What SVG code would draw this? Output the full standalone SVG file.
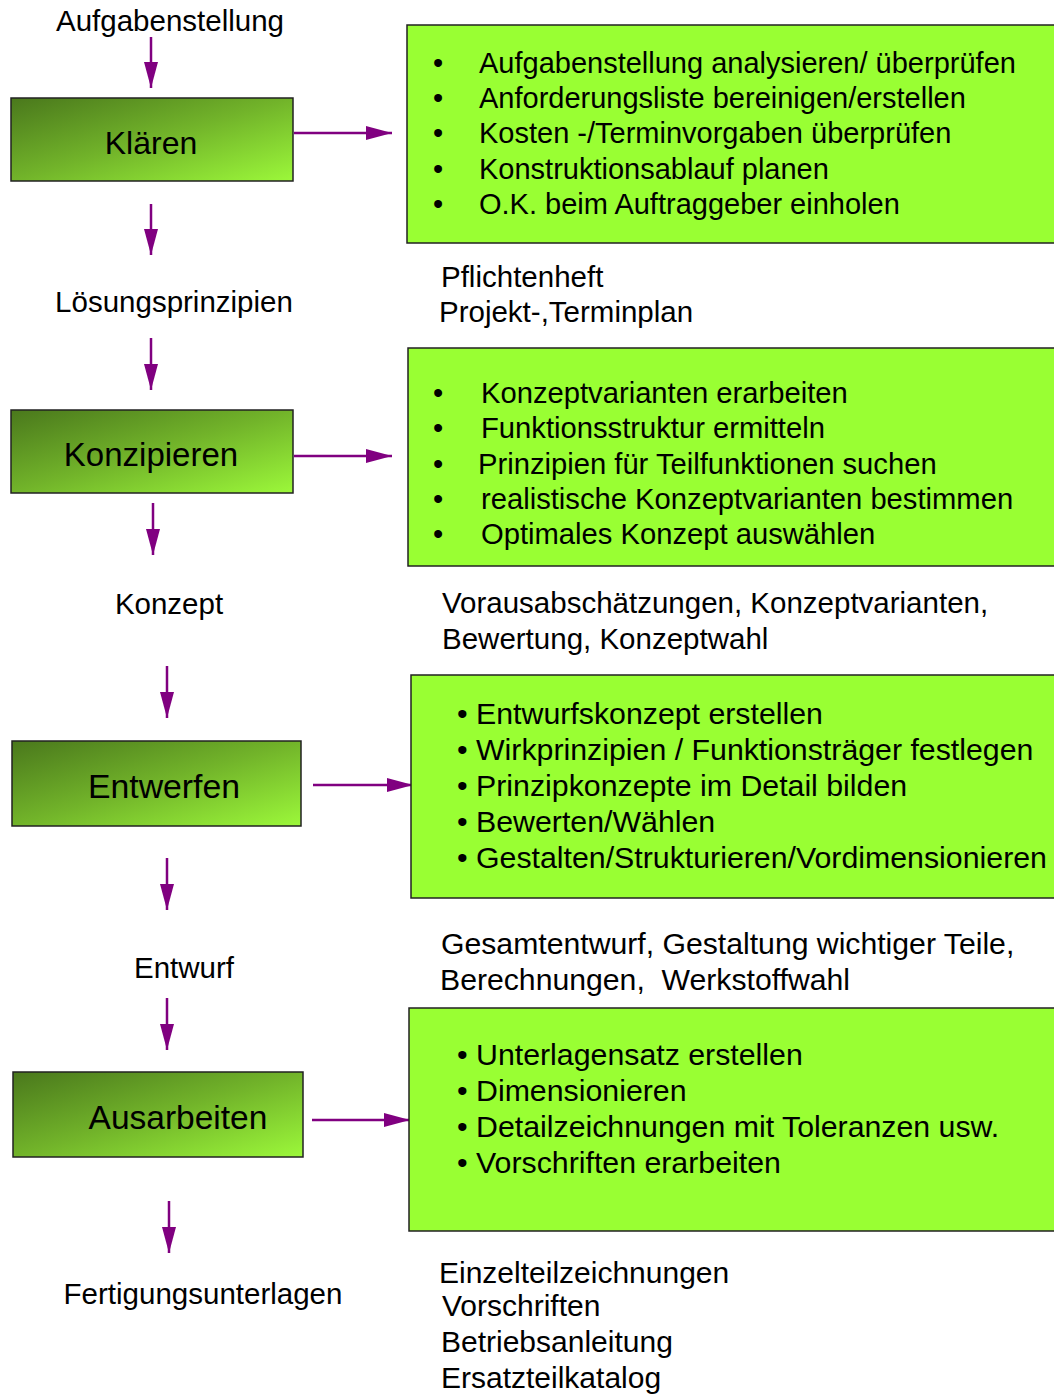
<svg xmlns="http://www.w3.org/2000/svg" width="1054" height="1394" viewBox="0 0 1054 1394">
<defs>
<linearGradient id="g" x1="0" y1="0" x2="1" y2="1">
<stop offset="0" stop-color="#4a781c"/>
<stop offset="0.5" stop-color="#72b42a"/>
<stop offset="1" stop-color="#9cf83a"/>
</linearGradient>
<marker id="ah" markerWidth="26" markerHeight="14" refX="26" refY="7" orient="auto" markerUnits="userSpaceOnUse" viewBox="0 0 26 14">
<path d="M0,0 L26,7 L0,14 Z" fill="#800080"/>
</marker>
</defs>
<style>
text{font-family:"Liberation Sans",Arial,sans-serif;fill:#000}
.lbl{font-size:29.5px}
.node{font-size:33px;text-anchor:middle}
.b1{font-size:29px}
.b2{font-size:29.2px}
.b3{font-size:30.3px}
.box{fill:url(#g);stroke:#222;stroke-width:1.5}
.rbox{fill:#99ff33;stroke:#222;stroke-width:1.5}
.c{stroke:#800080;stroke-width:2.5;fill:none;marker-end:url(#ah)}
</style>
<rect width="1054" height="1394" fill="#fff"/>
<g id="connectors">
<line class="c" x1="151" y1="37" x2="151" y2="88"/>
<line class="c" x1="151" y1="204" x2="151" y2="255"/>
<line class="c" x1="294" y1="133" x2="392" y2="133"/>
<line class="c" x1="151" y1="338" x2="151" y2="390"/>
<line class="c" x1="294" y1="456" x2="392" y2="456"/>
<line class="c" x1="153" y1="503" x2="153" y2="555"/>
<line class="c" x1="167" y1="666" x2="167" y2="718"/>
<line class="c" x1="313" y1="785" x2="413" y2="785"/>
<line class="c" x1="167" y1="858" x2="167" y2="910"/>
<line class="c" x1="167" y1="998" x2="167" y2="1050"/>
<line class="c" x1="312" y1="1120" x2="410" y2="1120"/>
<line class="c" x1="169" y1="1201" x2="169" y2="1253"/>
</g>
<g id="label-aufgabenstellung"><text class="lbl" x="170" y="31" text-anchor="middle">Aufgabenstellung</text></g>
<g id="node-klaeren">
<rect class="box" x="11" y="98" width="282" height="83"/>
<text class="node" x="151" y="154" style="font-size:32px">Klären</text>
</g>
<g id="box-klaeren">
<rect class="rbox" x="407" y="25" width="660" height="218"/>
<text class="b1" x="433" y="73">•</text><text class="b1" x="479" y="73">Aufgabenstellung analysieren/ überprüfen</text>
<text class="b1" x="433" y="108">•</text><text class="b1" x="479" y="108">Anforderungsliste bereinigen/erstellen</text>
<text class="b1" x="433" y="143">•</text><text class="b1" x="479" y="143">Kosten -/Terminvorgaben überprüfen</text>
<text class="b1" x="433" y="179">•</text><text class="b1" x="479" y="179">Konstruktionsablauf planen</text>
<text class="b1" x="433" y="214">•</text><text class="b1" x="479" y="214">O.K. beim Auftraggeber einholen</text>
</g>
<g id="out-klaeren">
<text class="lbl" x="441" y="287">Pflichtenheft</text>
<text class="lbl" x="439" y="322">Projekt-,Terminplan</text>
</g>
<g id="label-loesungsprinzipien"><text class="lbl" x="174" y="312" text-anchor="middle">Lösungsprinzipien</text></g>
<g id="node-konzipieren">
<rect class="box" x="11" y="410" width="282" height="83"/>
<text class="node" x="151" y="466">Konzipieren</text>
</g>
<g id="box-konzipieren">
<rect class="rbox" x="408" y="348" width="660" height="218"/>
<text class="b2" x="433" y="403">•</text><text class="b2" x="481" y="403">Konzeptvarianten erarbeiten</text>
<text class="b2" x="433" y="438">•</text><text class="b2" x="481" y="438">Funktionsstruktur ermitteln</text>
<text class="b2" x="433" y="474">•</text><text class="b2" x="478" y="474">Prinzipien für Teilfunktionen suchen</text>
<text class="b2" x="433" y="509">•</text><text class="b2" x="481" y="509">realistische Konzeptvarianten bestimmen</text>
<text class="b2" x="433" y="544">•</text><text class="b2" x="481" y="544">Optimales Konzept auswählen</text>
</g>
<g id="out-konzipieren">
<text class="lbl" x="442" y="613">Vorausabschätzungen, Konzeptvarianten,</text>
<text class="lbl" x="442" y="649">Bewertung, Konzeptwahl</text>
</g>
<g id="label-konzept"><text class="lbl" x="169" y="614" text-anchor="middle">Konzept</text></g>
<g id="node-entwerfen">
<rect class="box" x="12" y="741" width="289" height="85"/>
<text class="node" x="164" y="798" style="font-size:33.8px">Entwerfen</text>
</g>
<g id="box-entwerfen">
<rect class="rbox" x="411" y="675" width="660" height="223"/>
<text class="b3" x="457" y="724">• Entwurfskonzept erstellen</text>
<text class="b3" x="457" y="760">• Wirkprinzipien / Funktionsträger festlegen</text>
<text class="b3" x="457" y="796">• Prinzipkonzepte im Detail bilden</text>
<text class="b3" x="457" y="832">• Bewerten/Wählen</text>
<text class="b3" x="457" y="868">• Gestalten/Strukturieren/Vordimensionieren</text>
</g>
<g id="out-entwerfen">
<text class="lbl" x="441" y="954" style="font-size:30.2px">Gesamtentwurf, Gestaltung wichtiger Teile,</text>
<text class="lbl" x="440" y="990" style="font-size:30.2px;white-space:pre">Berechnungen,  Werkstoffwahl</text>
</g>
<g id="label-entwurf"><text class="lbl" x="184" y="978" text-anchor="middle">Entwurf</text></g>
<g id="node-ausarbeiten">
<rect class="box" x="13" y="1072" width="290" height="85"/>
<text class="node" x="178" y="1129" style="font-size:33.5px">Ausarbeiten</text>
</g>
<g id="box-ausarbeiten">
<rect class="rbox" x="409" y="1008" width="660" height="223"/>
<text class="b3" x="457" y="1065">• Unterlagensatz erstellen</text>
<text class="b3" x="457" y="1101">• Dimensionieren</text>
<text class="b3" x="457" y="1137">• Detailzeichnungen mit Toleranzen usw.</text>
<text class="b3" x="457" y="1173">• Vorschriften erarbeiten</text>
</g>
<g id="label-fertigungsunterlagen"><text class="lbl" x="203" y="1304" text-anchor="middle">Fertigungsunterlagen</text></g>
<g id="out-ausarbeiten">
<text class="lbl" x="439" y="1283" style="font-size:30px">Einzelteilzeichnungen</text>
<text class="lbl" x="442" y="1316" style="font-size:30px">Vorschriften</text>
<text class="lbl" x="441" y="1352" style="font-size:30px">Betriebsanleitung</text>
<text class="lbl" x="441" y="1388" style="font-size:30px">Ersatzteilkatalog</text>
</g>
</svg>
